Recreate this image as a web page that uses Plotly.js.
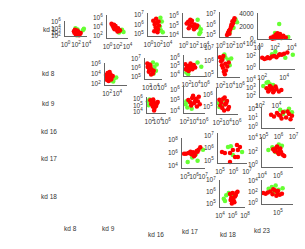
<!DOCTYPE html>
<html><head><meta charset="utf-8">
<script src="https://cdn.plot.ly/plotly-3.0.1.min.js"></script>
<style>html,body{margin:0;padding:0;background:#fff}#chart{width:305px;height:249px}</style>
</head><body><div id="chart"></div>
<script>
const rowLabels = ['kd 1','kd 8','kd 9','kd 16','kd 17','kd 18'];
const colLabels = ['kd 8','kd 9','kd 16','kd 17','kd 18','kd 23'];

// kd 1 row
const kd1_kd8_gx = [7.9e1,2e2,3.2e3,2e3,4e2,1.6e2];
const kd1_kd8_gy = [1.3e4,6.3e3,1e4,4e3,2.5e2,1.6e2];
const kd1_kd8_rx = [4e1,7.9e1,1.3e2,2e2,6.3e1,3.2e2,1.6e2,1e2,5e2,2.5e2,5e1,4e2,7.9e2];
const kd1_kd8_ry = [2e3,5e2,1.3e3,3.2e2,5e3,7.9e2,3.2e3,2e2,4e2,1.6e3,7.9e2,1.6e2,6.3e2];

const kd1_kd9_gx = [4e2,7.9e2,1.6e3,2e2];
const kd1_kd9_gy = [1e3,2e3,6.3e2,5e2];
const kd1_kd9_rx = [6.3,1e1,2e1,3.2e1,5e1,1.6e1,7.9e1,1.3e2,2e2,4e1,1e2,3.2e2,2.5e1];
const kd1_kd9_ry = [4e4,1.6e4,2.5e4,7.9e3,4e3,6.3e3,2e3,4e3,1e3,1.3e4,7.9e2,1.6e3,2.5e3];

const kd1_kd16_gx = [3.2e2,6.3e2,4e2,1e3,2.5e2];
const kd1_kd16_gy = [5e6,2e6,2.5e5,1.6e5,6.3e5];
const kd1_kd16_rx = [1e1,2e1,3.2e1,6.3e1,1e2,1.6e1,4e1,1.6e2,7.9e1,2.5e1,5e1,1.3e2];
const kd1_kd16_ry = [2.5e6,1e6,5e5,1.6e6,3.2e5,2e5,4e6,7.9e5,1.6e5,1.3e6,4e5,2e6];

const kd1_kd17_gx = [7.9e2,1.6e3,1e3,2e3,5e2];
const kd1_kd17_gy = [7.9e4,2e4,1.3e4,4e4,4e5];
const kd1_kd17_rx = [4,7.9,1.6e1,3.2e1,6.3e1,1.3e2,2.5e2,1e1,4e1,1e2,2e1,4e2];
const kd1_kd17_ry = [1.6e5,2.5e5,1e5,2e5,7.9e4,1.3e5,6.3e4,5e4,3.2e5,4e4,4e5,1e5];

const kd1_kd18_gx = [2e3,7.9e1,1e3,4e2];
const kd1_kd18_gy = [1.6e6,2e5,3.2e6,5e5];
const kd1_kd18_rx = [2e1,3.2e1,5e1,7.9e1,1.3e2,2e2,3.2e2,5e2,1e2,2.5e2,6.3e1,1.6e2,6.3e2];
const kd1_kd18_ry = [1e5,1.6e5,2.5e5,3.2e5,6.3e5,7.9e5,1.3e6,2.5e6,4e5,2e6,1.3e5,1e6,4e6];

const kd1_kd23_gx = [3.2e2,1e2,4e3,5e2];
const kd1_kd23_gy = [2400,960,320,150];
const kd1_kd23_rx = [3.2e1,6.3e1,1e2,1.6e2,2.5e2,4e2,6.3e2,1e3,2e3,5e1,2e2,7.9e2,1.3e2];
const kd1_kd23_ry = [200,400,100,600,300,800,150,500,250,50,900,350,700];

// kd 8 row
const kd8_kd9_gx = [1e3,2.5e3,6.3e3,1.6e3,4e2];
const kd8_kd9_gy = [6.3e2,1.3e3,2e3,3.2e2,5e2];
const kd8_kd9_rx = [6.3e1,1.3e2,2.5e2,5e2,1.6e2,7.9e2,1e2,3.2e2,1.3e3,2e2,7.9e1,6.3e2];
const kd8_kd9_ry = [6.3e3,1.6e4,3.2e3,7.9e3,1.3e3,2e3,6.3e2,2.5e4,4e3,4e2,2.5e3,7.9e2];

const kd8_kd16_gx = [4e3,1e4,2.5e4,6.3e3,4e4];
const kd8_kd16_gy = [4e6,1.3e6,5e5,2.5e5,2.5e6];
const kd8_kd16_rx = [1.3e2,2.5e2,5e2,1e3,2e3,3.2e2,7.9e2,4e3,1.6e2,1.3e3,4e2,6.3e3];
const kd8_kd16_ry = [3.2e6,1.6e6,2.5e6,1e6,6.3e5,4e5,2e6,2.5e5,1.3e6,2e5,7.9e5,5e5];

const kd8_kd17_gx = [1e2,2.5e2,4e2,1.6e5,2.5e4];
const kd8_kd17_gy = [1.6e4,1e4,3.2e4,7.9e4,2.5e5];
const kd8_kd17_rx = [6.3e1,1.3e2,2.5e2,5e2,1e3,2e3,4e3,1.6e2,7.9e2,7.9e3,3.2e2,7.9e1];
const kd8_kd17_ry = [1.6e5,6.3e4,1e5,5e4,7.9e4,4e4,1.3e5,3.2e4,2e5,6.3e4,2.5e4,4e4];

const kd8_kd18_gx = [1e3,4e3,1.6e4,7.9e3,6.3e2];
const kd8_kd18_gy = [2e6,1.3e6,1.6e6,5e5,3.2e6];
const kd8_kd18_rx = [7.9e1,1.3e2,2e2,3.2e2,5e2,7.9e2,1.3e3,2.5e3,5e3,2.5e2,1e3,4e2];
const kd8_kd18_ry = [2e6,1e6,5e5,3.2e5,1.6e5,1e5,2e5,4e5,7.9e5,1.3e6,6.3e5,2.5e6];

const kd8_kd23_gx = [7.9e2,1.6e3,1.3e4,6.3e4,1e3];
const kd8_kd23_gy = [2e2,5e2,5e1,1.6e2,1e2];
const kd8_kd23_rx = [1e2,1.6e2,3.2e2,5e2,7.9e2,1.3e3,2e3,3.2e3,6.3e3,1e4,2e4,4e3,2.5e2];
const kd8_kd23_ry = [5e1,3.2e1,6.3e1,4e1,7.9e1,1e2,6.3e1,1.3e2,1.6e2,2.5e2,4e2,2e2,4e1];

// kd 9 row
const kd9_kd16_gx = [4e1,1e2,2.5e2,6.3e1];
const kd9_kd16_gy = [4e5,7.9e5,2e5,1e5];
const kd9_kd16_rx = [1.6e2,4e2,1e3,2.5e3,6.3e3,6.3e2,1.6e3,4e3,2.5e2,1e4,1.3e3,7.9e2];
const kd9_kd16_ry = [6.3e5,2.5e5,4e5,1.3e5,2e5,6.3e4,3.2e4,7.9e4,1.6e5,3.2e5,1.6e4,7.9e5];

const kd9_kd17_gx = [1.6e2,4e2,1e3,3.2e3,2.5e2];
const kd9_kd17_gy = [4e4,2e4,6.3e4,1.6e4,7.9e4];
const kd9_kd17_rx = [6.3e2,1.6e3,4e3,1e4,2.5e4,6.3e4,1.6e5,2.5e3,1.6e4,1e5,6.3e3,4e4];
const kd9_kd17_ry = [1e5,6.3e4,1.6e5,5e4,1.3e5,7.9e4,4e4,3.2e4,7.9e4,2e5,2.5e5,2.5e4];

const kd9_kd18_gx = [1.6e2,4e2,1e3,2.5e3,2.5e2];
const kd9_kd18_gy = [2e5,3.2e5,1.3e5,4e5,1e5];
const kd9_kd18_rx = [2.5e2,6.3e2,1.6e3,4e3,1e4,2.5e4,1e3,2.5e3,6.3e3,4e2,1.6e4,3.2e3];
const kd9_kd18_ry = [4e5,2.5e5,5e5,1.6e5,3.2e5,1e5,7.9e4,5e4,2e5,1.3e5,6.3e4,6.3e5];

const kd9_kd23_gx = [2.5e2,6.3e2,1.6e3,4e3,1e3];
const kd9_kd23_gy = [1.6e3,4e3,2.5e3,2e3,5e3];
const kd9_kd23_rx = [6.3e2,1.3e3,2.5e3,5e3,1e4,2e4,4e4,1.6e3,4e3,7.9e3,1e3,3.2e3];
const kd9_kd23_ry = [7.9e2,5e2,1e3,4e2,6.3e2,3.2e2,5e2,1.6e3,2.5e2,1.3e3,3.2e2,6.3e2];

// kd 16 row
const kd16_kd17_gx = [2e5,2.5e6,6.3e5,1e7,1.6e6];
const kd16_kd17_gy = [4e4,6.3e4,2e5,3.2e6,6.3e5];
const kd16_kd17_rx = [7.9e4,1.3e5,2.5e5,5e5,7.9e5,1.3e6,2e6,3.2e6,5e6,1e6,2.5e6,4e5];
const kd16_kd17_ry = [7.9e5,7.9e5,1e6,6.3e5,1.3e6,5e5,2e6,3.2e6,7.9e6,3.2e5,1.6e6,1.6e6];

const kd16_kd18_gx = [3.9e5,9e5,4.3e6,6.3e5];
const kd16_kd18_gy = [1.2e6,2.8e5,4.8e5,1.4e6];
const kd16_kd18_rx = [1.4e5,2.3e5,5.5e5,1.8e6,2.1e6,1.3e6,2.1e6,5.5e5,3e6,9e5];
const kd16_kd18_ry = [4.8e5,4e5,4e5,1.7e6,6.9e5,1.9e5,1.9e5,7.6e4,1.2e6,6.9e5];

const kd16_kd23_gx = [1.3e6,2.5e6,5e6,7.9e6,2e6];
const kd16_kd23_gy = [7.9e1,5e1,1e2,4e1,2.5e1];
const kd16_kd23_rx = [3.2e5,5e5,7.9e5,1.3e6,2e6,3.2e6,5e6,7.9e6,1.6e6,4e6,1e6,6.3e6];
const kd16_kd23_ry = [2e1,1.3e1,3.2e1,1.6e1,4e1,1e1,2.5e1,1.6e1,7.9,5e1,2e1,6.3];

// kd 17 row
const kd17_kd18_gx = [4e4,1e5,2.5e5,6.3e5,1.6e6,6.3e4];
const kd17_kd18_gy = [2.5e5,5e5,7.9e5,6.3e5,4e5,1.6e5];
const kd17_kd18_rx = [4e5,6.3e5,1e6,1.6e6,2.5e6,4e6,7.9e5,1.3e6,2e6,5e5,3.2e6,6.3e6];
const kd17_kd18_ry = [6.3e5,3.2e5,7.9e5,1.6e5,4e5,7.9e5,1e5,2.5e5,1.3e5,2e5,5e5,1e6];

const kd17_kd23_gx = [6.3e4,1.3e6,5e5,2e5,3.2e6];
const kd17_kd23_gy = [1.6e2,1e3,7.9e1,4e2,6.3e2];
const kd17_kd23_rx = [2.5e5,4e5,6.3e5,1e6,1.6e6,2.5e6,4e6,7.9e5,1.3e6,2e6,5e5,6.3e6];
const kd17_kd23_ry = [2e2,1e2,3.2e2,6.3e1,1.6e2,7.9e1,3.2e1,5e2,4e1,2.5e2,1.3e2,2e1];

// kd 18 row
const kd18_kd23_gx = [2.5e4,4e4,7.1e4,1.1e5,2e5,5.6e4];
const kd18_kd23_gy = [4e2,7.9e2,1.6e3,2.5e2,5e2,1e2];
const kd18_kd23_rx = [1.1e4,1.6e4,2.2e4,3.2e4,4.5e4,6.3e4,8.9e4,1.3e5,1.8e5,5e4,7.9e4,1e5];
const kd18_kd23_ry = [6.3e1,5e1,7.9e1,1.3e2,4e1,2e2,1e2,3.2e1,5e1,3.2e2,2e1,1.6e2];

// panel layout: box = [left, right, top, bottom] in px
const panels = [
 {gx:kd1_kd8_gx,gy:kd1_kd8_gy,rx:kd1_kd8_rx,ry:kd1_kd8_ry, box:[65,87,21,36], xr:[-0.1,4.1], xt:[0,2,4], yr:[2,6.1], yt:[2,3,4,6]},
 {gx:kd1_kd9_gx,gy:kd1_kd9_gy,rx:kd1_kd9_rx,ry:kd1_kd9_ry, box:[107,128,15,38], xr:[-0.1,4.1], xt:[0,2,4], yr:[1.5,6.5], yt:[2,4,6]},
 {gx:kd1_kd16_gx,gy:kd1_kd16_gy,rx:kd1_kd16_rx,ry:kd1_kd16_ry, box:[148,168,13,36], xr:[-0.1,4.1], xt:[0,2,4], yr:[4.8,7.2], yt:[5,6,7]},
 {gx:kd1_kd17_gx,gy:kd1_kd17_gy,rx:kd1_kd17_rx,ry:kd1_kd17_ry, box:[183,205,13,37], xr:[-0.1,4.1], xt:[0,2,4], yr:[3.8,6.3], yt:[4,5,6]},
 {gx:kd1_kd18_gx,gy:kd1_kd18_gy,rx:kd1_kd18_rx,ry:kd1_kd18_ry, box:[220,241,12,37], xr:[-0.1,4.1], xt:[0,2,4], yr:[4.8,7.2], yt:[5,6,7]},
 {gx:kd1_kd23_gx,gy:kd1_kd23_gy,rx:kd1_kd23_rx,ry:kd1_kd23_ry, box:[258,292,13,39], xr:[-0.05,4.05], xt:[0,2,4], yr:[0,4160], yt:[0,2000,4000], ylin:true},
 {gx:kd8_kd9_gx,gy:kd8_kd9_gy,rx:kd8_kd9_rx,ry:kd8_kd9_ry, box:[105,127,63,85], xr:[1.6,5.9], xt:[2,4,6], yr:[1.8,6.2], yt:[2,4,6]},
 {gx:kd8_kd16_gx,gy:kd8_kd16_gy,rx:kd8_kd16_rx,ry:kd8_kd16_ry, box:[145,162,58,79], xr:[1.5,6.0], xt:[2,4,6], yr:[4.8,7.1], yt:[5,6,7]},
 {gx:kd8_kd17_gx,gy:kd8_kd17_gy,rx:kd8_kd17_rx,ry:kd8_kd17_ry, box:[184,205,55,76], xr:[1.5,6.0], xt:[2,4,6], yr:[3.8,6.3], yt:[4,5,6]},
 {gx:kd8_kd18_gx,gy:kd8_kd18_gy,rx:kd8_kd18_rx,ry:kd8_kd18_ry, box:[218,240,48,77], xr:[1.5,6.0], xt:[2,4,6], yr:[4.8,7.0], yt:[5,6,7]},
 {gx:kd8_kd23_gx,gy:kd8_kd23_gy,rx:kd8_kd23_rx,ry:kd8_kd23_ry, box:[260,295,43,69], xr:[1.8,5.0], xt:[2,4], yr:[-0.2,4.2], yt:[0,2,4]},
 {gx:kd9_kd16_gx,gy:kd9_kd16_gy,rx:kd9_kd16_rx,ry:kd9_kd16_ry, box:[147,166,97,113], xr:[1.4,6.0], xt:[2,4,6], yr:[3.8,6.3], yt:[4,5,6]},
 {gx:kd9_kd17_gx,gy:kd9_kd17_gy,rx:kd9_kd17_rx,ry:kd9_kd17_ry, box:[184,205,85,113], xr:[1.9,6.3], xt:[2,4,6], yr:[3.8,6.4], yt:[4,5,6]},
 {gx:kd9_kd18_gx,gy:kd9_kd18_gy,rx:kd9_kd18_rx,ry:kd9_kd18_ry, box:[217,238,88,114], xr:[1.9,6.3], xt:[2,4,6], yr:[4.4,6.6], yt:[5,6]},
 {gx:kd9_kd23_gx,gy:kd9_kd23_gy,rx:kd9_kd23_rx,ry:kd9_kd23_ry, box:[260,292,78,97], xr:[2.0,5.9], xt:[2,4,6], yr:[1.8,4.2], yt:[2,3,4]},
 {gx:kd16_kd17_gx,gy:kd16_kd17_gy,rx:kd16_kd17_rx,ry:kd16_kd17_ry, box:[182,205,138,168], xr:[4.67,7.22], xt:[5,6,7], yr:[3.7,8.3], yt:[4,6,8]},
 {gx:kd16_kd18_gx,gy:kd16_kd18_gy,rx:kd16_kd18_rx,ry:kd16_kd18_ry, box:[218,247,133,163], xr:[4.85,7.0], xt:[5,6,7], yr:[4.8,7.2], yt:[5,6,7]},
 {gx:kd16_kd23_gx,gy:kd16_kd23_gy,rx:kd16_kd23_rx,ry:kd16_kd23_ry, box:[262,295,107,128], xr:[4.9,7.1], xt:[5,6,7], yr:[-0.2,2.2], yt:[0,1,2]},
 {gx:kd17_kd18_gx,gy:kd17_kd18_gy,rx:kd17_kd18_rx,ry:kd17_kd18_ry, box:[220,245,180,207], xr:[4,8], xt:[4,6,8], yr:[4.7,7.0], yt:[5,6,7]},
 {gx:kd17_kd23_gx,gy:kd17_kd23_gy,rx:kd17_kd23_rx,ry:kd17_kd23_ry, box:[262,293,137,167], xr:[4.0,7.9], xt:[4,6,8], yr:[-0.3,4.1], yt:[0,2,4]},
 {gx:kd18_kd23_gx,gy:kd18_kd23_gy,rx:kd18_kd23_rx,ry:kd18_kd23_ry, box:[262,293,180,204], xr:[3.97,5.97], xt:[5], yr:[-0.2,4.2], yt:[0,2,4]}
];

const rowLabelPos = [[49,29],[48,74],[48,103],[49,131],[49,158],[49,196]];
const colLabelPos = [[70,228],[108,228],[156,234],[190,231],[228,234],[262,230]];

const W = 305, H = 249;
const font = 'Liberation Sans, Arial, sans-serif';
const GREEN = '#66ff33', RED = '#ff0000';
const TXT = '#333333';
const data = [];
const layout = {
  width: W, height: H, margin: {l:0,r:0,t:0,b:0},
  paper_bgcolor: '#ffffff', plot_bgcolor: 'rgba(0,0,0,0)',
  showlegend: false, font: {family: font, size: 6, color: TXT},
  annotations: []
};
const pow = e => '10<sup>' + e + '</sup>';

panels.forEach((p, i) => {
  const n = i + 1;
  const xa = n === 1 ? 'x' : 'x' + n, ya = n === 1 ? 'y' : 'y' + n;
  const xk = n === 1 ? 'xaxis' : 'xaxis' + n, yk = n === 1 ? 'yaxis' : 'yaxis' + n;
  const [l, r, t, b] = p.box;
  const common = {showline: true, linecolor: '#666666', linewidth: 1, showgrid: false, zeroline: false,
    ticks: '', ticklabelstandoff: 2, tickfont: {family: font, size: 6.5, color: TXT}, fixedrange: true};
  layout[xk] = Object.assign({}, common, {
    domain: [l / W, r / W], anchor: ya, type: 'log', range: p.xr,
    tickmode: 'array', tickvals: p.xt.map(e => Math.pow(10, e)), ticktext: p.xt.map(pow), tickangle: 0
  });
  if (p.ylin) {
    layout[yk] = Object.assign({}, common, {
      domain: [1 - b / H, 1 - t / H], anchor: xa, type: 'linear', range: p.yr,
      tickmode: 'array', tickvals: p.yt, ticktext: p.yt.map(String)
    });
  } else {
    layout[yk] = Object.assign({}, common, {
      domain: [1 - b / H, 1 - t / H], anchor: xa, type: 'log', range: p.yr,
      tickmode: 'array', tickvals: p.yt.map(e => Math.pow(10, e)), ticktext: p.yt.map(pow)
    });
  }
  data.push({x: p.gx, y: p.gy, xaxis: xa, yaxis: ya, type: 'scatter', mode: 'markers', cliponaxis: false,
    marker: {color: GREEN, size: 4.5, line: {width: 0}}, hoverinfo: 'skip'});
  data.push({x: p.rx, y: p.ry, xaxis: xa, yaxis: ya, type: 'scatter', mode: 'markers', cliponaxis: false,
    marker: {color: RED, size: 4.5, line: {width: 0}}, hoverinfo: 'skip'});
});

rowLabels.forEach((t, i) => layout.annotations.push({text: t, xref: 'paper', yref: 'paper',
  x: rowLabelPos[i][0] / W, y: 1 - rowLabelPos[i][1] / H, showarrow: false,
  font: {family: font, size: 6.5, color: TXT}, xanchor: 'center', yanchor: 'middle'}));
colLabels.forEach((t, i) => layout.annotations.push({text: t, xref: 'paper', yref: 'paper',
  x: colLabelPos[i][0] / W, y: 1 - colLabelPos[i][1] / H, showarrow: false,
  font: {family: font, size: 6.5, color: TXT}, xanchor: 'center', yanchor: 'middle'}));

Plotly.newPlot('chart', data, layout, {staticPlot: true, displayModeBar: false});
</script></body></html>
